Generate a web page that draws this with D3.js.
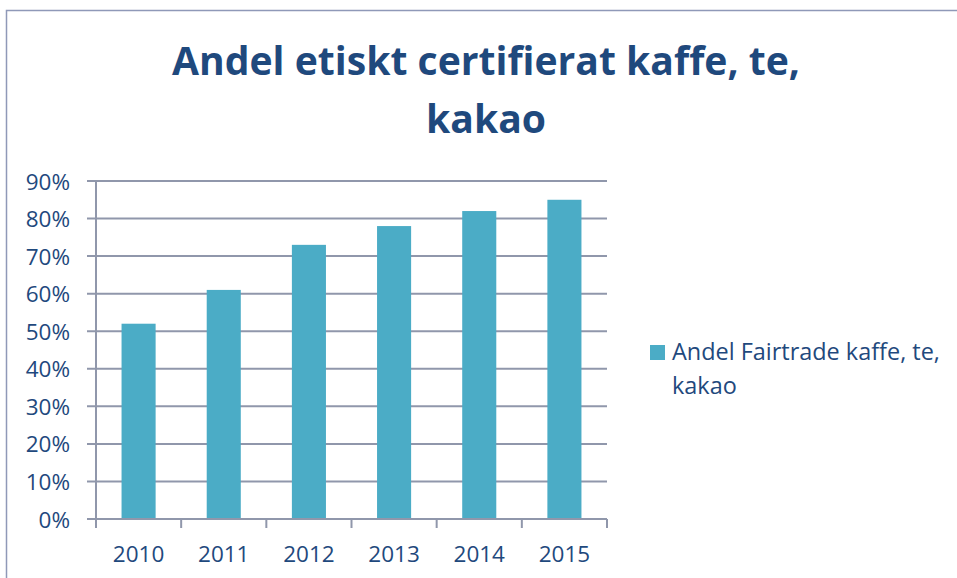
<!DOCTYPE html>
<html lang="en">
<head>
<meta charset="utf-8">
<title>Andel etiskt certifierat kaffe, te, kakao</title>
<script src="https://cdn.jsdelivr.net/npm/d3@7"></script>
<style>
  body { margin: 0; background: #fff; }
  text { font-family: "Open Sans", sans-serif; font-variant-ligatures: none; }
</style>
</head>
<body>
<script>
// data
var years = ["2010", "2011", "2012", "2013", "2014", "2015"];
var share = [0.52, 0.61, 0.73, 0.78, 0.82, 0.85];
var yTicks = [0, 0.1, 0.2, 0.3, 0.4, 0.5, 0.6, 0.7, 0.8, 0.9];
var seriesName = ["Andel Fairtrade kaffe, te,", "kakao"];
var titleLines = ["Andel etiskt certifierat kaffe, te,", "kakao"];

var w = 957, h = 578;
var textColor = "#1f497d";
var barColor = "#4bacc6";
var gridColor = "#9097ab";

// plot area
var plotLeft = 96, plotRight = 607, plotTop = 181, plotBottom = 519;

var svg = d3.select("body").append("svg")
  .attr("width", w)
  .attr("height", h);

// chart frame (runs off the right/bottom edges)
svg.append("rect")
  .attr("x", 6.5).attr("y", 10.5)
  .attr("width", w + 20).attr("height", h + 20)
  .attr("fill", "none")
  .attr("stroke", "#8f99b8")
  .attr("stroke-width", 1.5);

var x = d3.scaleBand()
  .domain(years)
  .range([plotLeft, plotRight])
  .paddingInner(0.6)
  .paddingOuter(0.3);

var y = d3.scaleLinear()
  .domain([0, 0.9])
  .range([plotBottom, plotTop]);

// gridlines
svg.append("g").selectAll("line")
  .data(yTicks)
  .enter().append("line")
  .attr("x1", plotLeft - 9).attr("x2", plotRight)
  .attr("y1", function(d) { return y(d); })
  .attr("y2", function(d) { return y(d); })
  .attr("stroke", gridColor)
  .attr("stroke-width", 2);

// bars
svg.append("g").selectAll("rect")
  .data(share)
  .enter().append("rect")
  .attr("x", function(d, i) { return x(years[i]); })
  .attr("y", function(d) { return y(d); })
  .attr("width", x.bandwidth())
  .attr("height", function(d) { return y(0) - y(d); })
  .attr("fill", barColor);

// y axis
var yAxis = svg.append("g")
  .attr("transform", "translate(" + plotLeft + ",0)")
  .call(d3.axisLeft(y).tickValues(yTicks).tickSize(9).tickPadding(17)
    .tickFormat(d3.format(".0%")));
yAxis.select(".domain").remove();
yAxis.selectAll("line").remove();
yAxis.selectAll("text")
  .attr("fill", textColor)
  .attr("dy", "0.36em")
  .style("font-size", "22.5px");
svg.append("line")
  .attr("x1", plotLeft).attr("x2", plotLeft)
  .attr("y1", plotTop).attr("y2", plotBottom + 9)
  .attr("stroke", gridColor).attr("stroke-width", 2);

// x axis
var boundaries = years.map(function(d) { return x(d) - x.bandwidth() * 0.75; });
boundaries.push(plotRight);
svg.append("line")
  .attr("x1", plotLeft).attr("x2", plotRight)
  .attr("y1", plotBottom).attr("y2", plotBottom)
  .attr("stroke", gridColor).attr("stroke-width", 2);
svg.append("g").selectAll("line")
  .data(boundaries)
  .enter().append("line")
  .attr("x1", function(d) { return d; })
  .attr("x2", function(d) { return d; })
  .attr("y1", plotBottom).attr("y2", plotBottom + 9)
  .attr("stroke", gridColor).attr("stroke-width", 2);

svg.append("g").selectAll("text")
  .data(years)
  .enter().append("text")
  .attr("x", function(d) { return x(d) + x.bandwidth() / 2; })
  .attr("y", plotBottom + 43)
  .attr("text-anchor", "middle")
  .attr("fill", textColor)
  .style("font-size", "22.5px")
  .text(function(d) { return d; });

// title, fitted to the reference width
var title = svg.append("g");
var t1 = title.append("text")
  .attr("x", 486).attr("y", 75)
  .attr("text-anchor", "middle")
  .attr("fill", textColor)
  .style("font-weight", "bold")
  .style("font-size", "40px")
  .text(titleLines[0]);
var fs = 40 * 628 / t1.node().getComputedTextLength();
t1.style("font-size", fs + "px");
title.append("text")
  .attr("x", 486).attr("y", 133)
  .attr("text-anchor", "middle")
  .attr("fill", textColor)
  .style("font-weight", "bold")
  .style("font-size", fs + "px")
  .text(titleLines[1]);

// legend
var legend = svg.append("g");
legend.append("rect")
  .attr("x", 650).attr("y", 345)
  .attr("width", 15).attr("height", 15)
  .attr("fill", barColor);
var lt = legend.selectAll("text")
  .data(seriesName)
  .enter().append("text")
  .attr("x", 672)
  .attr("y", function(d, i) { return 360 + i * 34; })
  .attr("fill", textColor)
  .style("font-size", "22px")
  .text(function(d) { return d; });
var lfs = 22 * 268 / lt.node().getComputedTextLength();
lt.style("font-size", lfs + "px");
</script>
</body>
</html>
